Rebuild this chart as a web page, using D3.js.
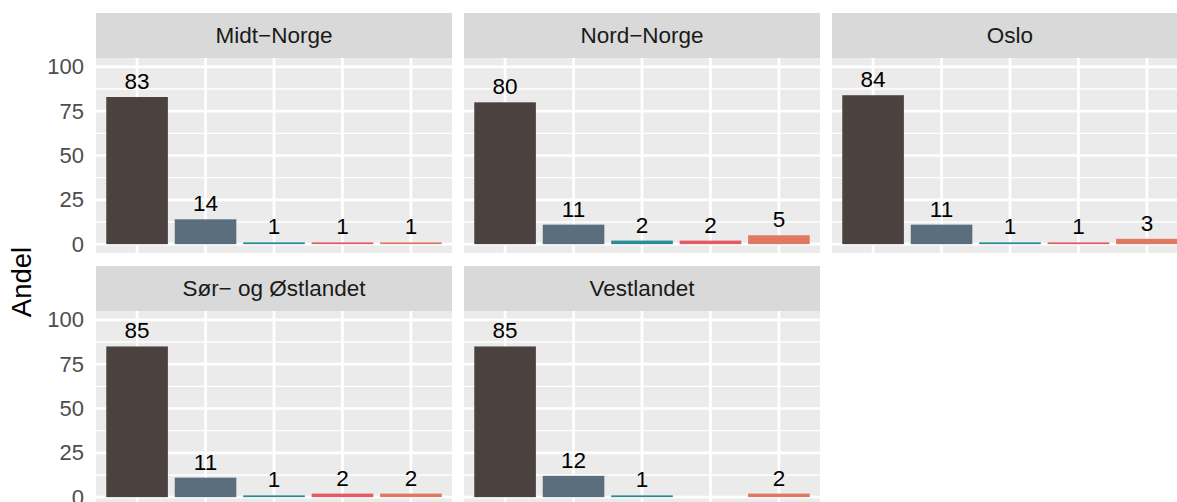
<!DOCTYPE html>
<html lang="no">
<head>
    <meta charset="UTF-8">
    <title>Andel per region</title>
    <script src="https://d3js.org/d3.v7.min.js"></script>
</head>
<style>
    html,body {
        margin: 0;
        padding: 0;
        background: #fff;
    }
    text {
        font-family: "Liberation Sans", Arial, sans-serif;
    }
</style>
<body>
    <div id="chart"></div>
</body>
<script>
    // regioner (fasetter) og kategorier
    const regions = ['Midt−Norge', 'Nord−Norge', 'Oslo', 'Sør− og Østlandet', 'Vestlandet'];
    const categories = ['k1', 'k2', 'k3', 'k4', 'k5'];
    const colors = ['#4B4240', '#5B6E7E', '#2B8B97', '#E65B62', '#DF7962'];

    // andel per kategori, en liste per region (null = mangler)
    const midtNorge = [83, 14, 1, 1, 1];
    const nordNorge = [80, 11, 2, 2, 5];
    const oslo = [84, 11, 1, 1, 3];
    const sorOstlandet = [85, 11, 1, 2, 2];
    const vestlandet = [85, 12, 1, null, 2];
    const values = [midtNorge, nordNorge, oslo, sorOstlandet, vestlandet];

    const yTicks = [0, 25, 50, 75, 100];
    const yMinor = [12.5, 37.5, 62.5, 87.5];

    const width = 1177;
    const height = 502;
    const ncol = 3;
    const panelW = 356;
    const panelH = 195;
    const stripH = 45;
    const colX = [96, 464, 832];
    const rowY = [13, 266];

    const svg = d3.select('#chart').append('svg')
        .attr('width', width)
        .attr('height', height);

    const x = d3.scaleBand().domain(categories).range([0, panelW])
        .paddingInner(0.1).paddingOuter(0.15);
    const y = d3.scaleLinear().domain([-5, 105]).range([panelH, 0]);

    regions.forEach((name, i) => {
        const col = i % ncol;
        const row = Math.floor(i / ncol);
        const g = svg.append('g')
            .attr('transform', `translate(${colX[col]},${rowY[row]})`);

        // strip
        g.append('rect')
            .attr('width', panelW).attr('height', stripH)
            .attr('fill', '#D9D9D9');
        g.append('text')
            .attr('x', panelW / 2).attr('y', stripH / 2)
            .attr('dy', '0.35em')
            .attr('text-anchor', 'middle')
            .attr('font-size', '22.5px')
            .attr('fill', '#1A1A1A')
            .text(name);

        const p = g.append('g').attr('transform', `translate(0,${stripH})`);
        p.append('rect')
            .attr('width', panelW).attr('height', panelH)
            .attr('fill', '#EBEBEB');

        // rutenett
        p.selectAll('.minor').data(yMinor).enter().append('line')
            .attr('x1', 0).attr('x2', panelW)
            .attr('y1', d => y(d)).attr('y2', d => y(d))
            .attr('stroke', '#fff').attr('stroke-width', 1.4);
        p.selectAll('.major').data(yTicks).enter().append('line')
            .attr('x1', 0).attr('x2', panelW)
            .attr('y1', d => y(d)).attr('y2', d => y(d))
            .attr('stroke', '#fff').attr('stroke-width', 2.7);
        p.selectAll('.vline').data(categories).enter().append('line')
            .attr('x1', d => x(d) + x.bandwidth() / 2)
            .attr('x2', d => x(d) + x.bandwidth() / 2)
            .attr('y1', 0).attr('y2', panelH)
            .attr('stroke', '#fff').attr('stroke-width', 2.7);

        const data = categories.map((c, j) => ({c: c, v: values[i][j], col: colors[j]}))
            .filter(d => d.v !== null);

        p.selectAll('.bar').data(data).enter().append('rect')
            .attr('x', d => x(d.c))
            .attr('y', d => y(d.v))
            .attr('width', x.bandwidth())
            .attr('height', d => y(0) - y(d.v))
            .attr('fill', d => d.col);

        p.selectAll('.lbl').data(data).enter().append('text')
            .attr('x', d => x(d.c) + x.bandwidth() / 2)
            .attr('y', d => y(d.v) - 8)
            .attr('text-anchor', 'middle')
            .attr('font-size', '22.5px')
            .attr('fill', '#000')
            .text(d => d.v);

        // y-akse bare i første kolonne
        if (col === 0) {
            const ax = p.append('g')
                .call(d3.axisLeft(y).tickValues(yTicks).tickSize(0).tickPadding(12));
            ax.select('.domain').remove();
            ax.selectAll('text')
                .attr('font-size', '22px')
                .attr('font-family', '"Liberation Sans", Arial, sans-serif')
                .attr('fill', '#4D4D4D');
        }
    });

    // y-aksetittel
    svg.append('text')
        .attr('transform', 'translate(31,282) rotate(-90)')
        .attr('text-anchor', 'middle')
        .attr('font-size', '27.5px')
        .attr('fill', '#000')
        .text('Andel');
</script>
</html>
